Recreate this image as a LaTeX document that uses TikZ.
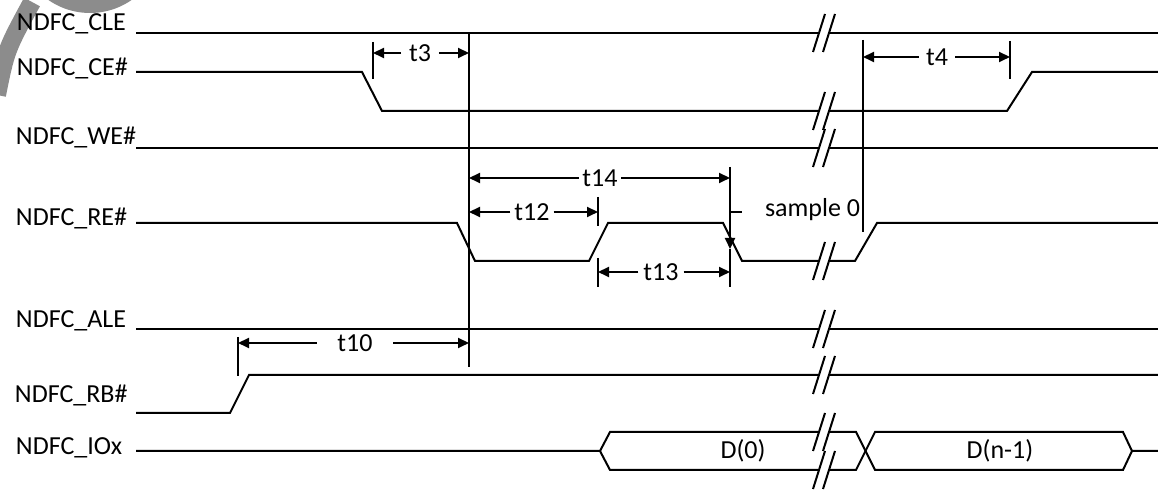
\documentclass[tikz,border=0pt]{standalone}
\usepackage{fontspec}
\setmainfont{Carlito}
\usetikzlibrary{arrows.meta}

\begin{document}
\begin{tikzpicture}[x=0.5pt,y=-0.5pt,line width=1pt]
        \tikzstyle{wave}=[draw=black, line width=1pt, line join=miter]
        \tikzstyle{signame}=[anchor=base west, inner sep=0pt, font=\fontsize{13}{15}\selectfont]
        \tikzstyle{timelabel}=[inner ysep=0pt, font=\fontsize{13}{15}\selectfont]
        \tikzstyle{timing}=[draw=black, line width=1pt, -{Triangle[length=5.5pt,width=5pt]}]
        \tikzstyle{tickmark}=[draw=black, line width=1pt]
        \tikzstyle{brk}=[draw=black, line width=1pt]

        \useasboundingbox (0,0) rectangle (1158,490);

        % grey mark in the corner
        \begin{scope}
            \clip (0,0) rectangle (1158,490);
            \fill[black!45] (90,-60) circle (73);
            \draw[black!45, line width=9pt] (-3,95) .. controls (6,50) .. (32,2);
        \end{scope}

        % signal names
        \node [signame] (cle) at (16,31) {NDFC\_CLE};
        \node [signame] (ce) at (16,76) {NDFC\_CE\#};
        \node [signame] (we) at (15,145) {NDFC\_WE\#};
        \node [signame] (re) at (15,226) {NDFC\_RE\#};
        \node [signame] (ale) at (15,328) {NDFC\_ALE};
        \node [signame] (rb) at (14,403) {NDFC\_RB\#};
        \node [signame] (io) at (15,455) {NDFC\_IOx};

        % waveforms
        \draw[wave] (136,33) -- (1158,33);
        \draw[wave] (136,72) -- (362,72) -- (382,111) -- (1007,111) -- (1032,72) -- (1158,72);
        \draw[wave] (136,148) -- (1158,148);
        \draw[wave] (136,223) -- (457,223) -- (475,261) -- (589,261) -- (608,223) -- (723,223)
                    -- (742,261) -- (855,261) -- (877,223) -- (1158,223);
        \draw[wave] (136,329) -- (1158,329);
        \draw[wave] (136,413) -- (230,413) -- (249,375) -- (1158,375);
        \draw[wave] (136,451) -- (600,451) -- (610,432) -- (856,432) -- (875,470) -- (1123,470)
                    -- (1132,451) -- (1158,451);
        \draw[wave] (600,451) -- (610,470) -- (856,470) -- (875,432) -- (1123,432) -- (1132,451);
        \node [timelabel] (d0) at (743,451) {D(0)};
        \node [timelabel] (dn) at (1000,451) {D(n-1)};

        % breaks
        \foreach \y in {33,111,148,261,329,375,432,470}
            \fill[white] (813,\y+19) -- (823,\y+19) -- (835,\y-19) -- (825,\y-19) -- cycle;
        \foreach \y in {33,111,148,261,329,375,432,470}
            \draw[brk] (813,\y+19) -- (825,\y-19) (823,\y+19) -- (835,\y-19);

        % reference lines and ticks
        \draw[tickmark] (469,33) -- (469,367);
        \draw[tickmark] (863,40) -- (863,232);
        \draw[tickmark] (373,42) -- (373,79);
        \draw[tickmark] (1010,41) -- (1010,79);
        \draw[tickmark] (598,197) -- (598,226);
        \draw[tickmark] (598,258) -- (598,287);
        \draw[tickmark] (730,249) -- (730,287);
        \draw[tickmark] (238,337) -- (238,376);
        \draw[tickmark] (730,212) -- (742,212);
        \draw[timing] (730,167) -- (730,249);

        \coordinate (t3a) at (373,53);  \coordinate (t3b) at (469,53);
        \coordinate (t4a) at (863,57);  \coordinate (t4b) at (1010,57);
        \coordinate (t14a) at (469,178); \coordinate (t14b) at (730,178);
        \coordinate (t12a) at (469,212); \coordinate (t12b) at (598,212);
        \coordinate (t13a) at (598,272); \coordinate (t13b) at (730,272);
        \coordinate (t10a) at (238,343); \coordinate (t10b) at (469,343);

        % timing labels
        \node [timelabel, inner xsep=3.5pt] (t3) at (420,53) {t3};
        \node [timelabel, inner xsep=3.25pt] (t4) at (937,57) {t4};
        \node [timelabel, inner xsep=1.25pt] (t14) at (600,178) {t14};
        \node [timelabel, inner xsep=1.5pt] (t12) at (532,212) {t12};
        \node [timelabel, inner xsep=2pt] (t13) at (661,272) {t13};
        \node [timelabel, inner xsep=9.75pt] (t10) at (355,343) {t10};
        \node [signame] (smp) at (764,217) {sample 0};

        \foreach \t in {t3,t4,t14,t12,t13,t10} {
            \draw[timing] (\t) -- (\t a);
            \draw[timing] (\t) -- (\t b);
        }
\end{tikzpicture}
\end{document}
